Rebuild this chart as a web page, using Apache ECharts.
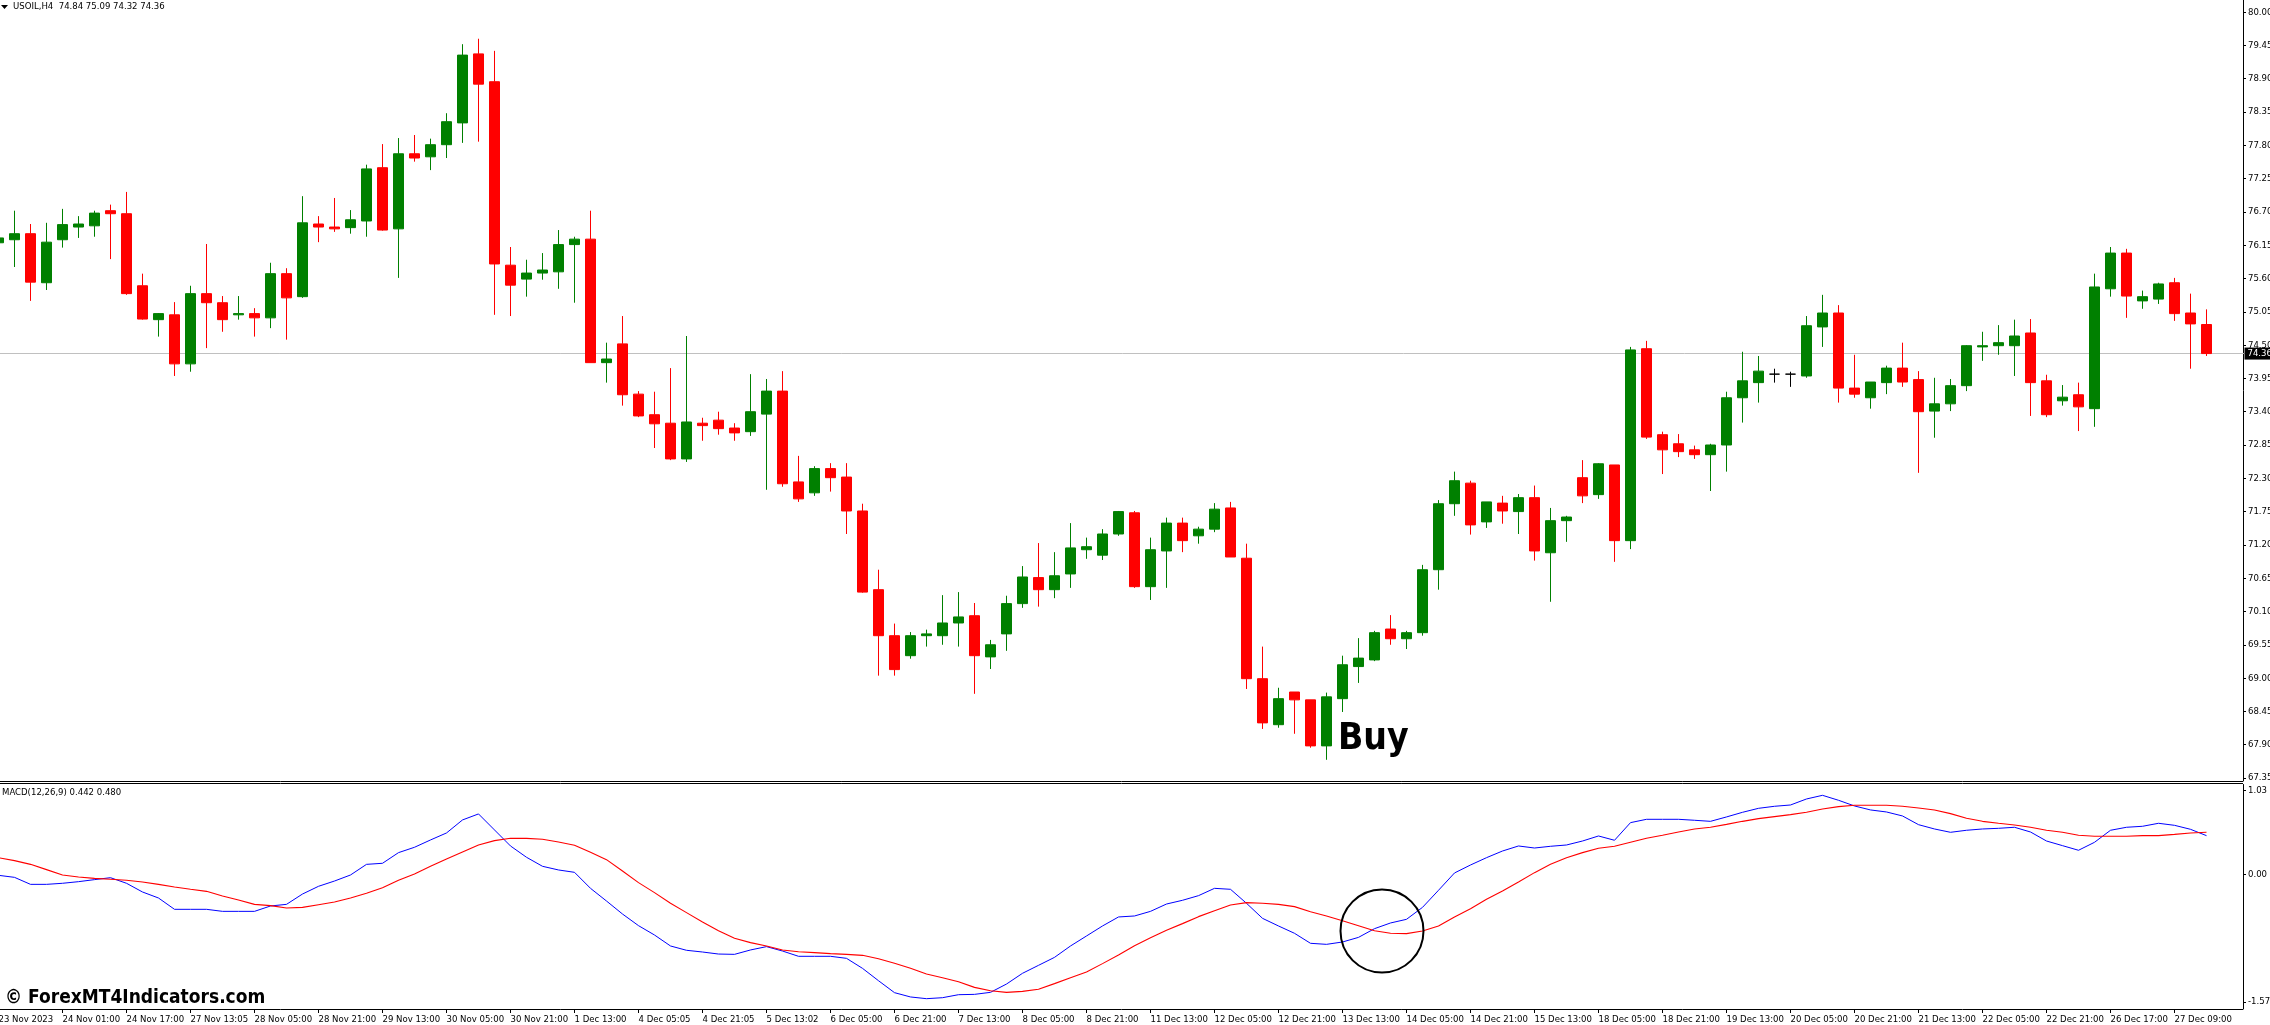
<!DOCTYPE html>
<html>
<head>
<meta charset="utf-8">
<title>USOIL H4 MACD</title>
<script src="https://cdn.jsdelivr.net/npm/echarts@6/dist/echarts.min.js"></script>
<style>
  html, body { margin: 0; padding: 0; background: #fff; overflow: hidden; }
  #chart-container { width: 2270px; height: 1025px; }
</style>
</head>
<body>
<div id="chart-container"></div>
<script>
// one row per H4 bar: open, high, low, close
const candles = [
  [76.19,76.35,76.13,76.27],[76.24,76.72,75.79,76.34],[76.34,76.50,75.23,75.54],[75.53,76.52,75.41,76.20],
  [76.24,76.75,76.11,76.49],[76.45,76.63,76.27,76.50],[76.47,76.72,76.29,76.68],[76.72,76.82,75.92,76.67],
  [76.67,77.03,75.33,75.35],[75.48,75.68,74.92,74.93],[74.92,75.03,74.64,75.02],[75.00,75.21,73.99,74.19],
  [74.19,75.48,74.06,75.35],[75.35,76.17,74.45,75.20],[75.20,75.31,74.72,74.92],[75.00,75.31,74.92,75.02],
  [75.02,75.11,74.64,74.95],[74.95,75.86,74.78,75.68],[75.68,75.77,74.59,75.28],[75.30,76.96,75.28,76.52],
  [76.50,76.63,76.20,76.45],[76.45,76.93,76.37,76.42],[76.44,76.73,76.34,76.57],[76.55,77.48,76.29,77.41],
  [77.43,77.82,76.39,76.40],[76.42,77.92,75.61,77.66],[77.66,77.97,77.53,77.59],[77.61,77.91,77.39,77.81],
  [77.81,78.33,77.59,78.19],[78.17,79.47,77.84,79.29],[79.31,79.56,77.86,78.81],[78.85,79.36,75.00,75.84],
  [75.82,76.12,74.98,75.49],[75.59,75.91,75.30,75.69],[75.69,76.02,75.58,75.74],[75.71,76.40,75.43,76.16],
  [76.16,76.29,75.20,76.25],[76.25,76.72,74.21,74.21],[74.21,74.54,73.88,74.27],[74.52,74.98,73.50,73.68],
  [73.69,73.74,73.31,73.33],[73.35,73.73,72.80,73.20],[73.21,74.12,72.60,72.62],[72.62,74.65,72.57,73.23],
  [73.21,73.30,72.92,73.17],[73.26,73.40,73.02,73.12],[73.13,73.21,72.92,73.05],[73.07,74.02,73.00,73.40],
  [73.36,73.94,72.11,73.74],[73.74,74.07,72.16,72.21],[72.24,72.67,71.91,71.96],[72.06,72.50,72.01,72.46],
  [72.46,72.55,72.08,72.31],[72.32,72.55,71.38,71.76],[71.76,71.88,70.41,70.42],[70.46,70.79,69.04,69.70],
  [69.70,69.90,69.04,69.14],[69.37,69.76,69.32,69.70],[69.70,69.80,69.52,69.73],[69.70,70.37,69.55,69.91],
  [69.91,70.42,69.52,70.01],[70.03,70.24,68.74,69.37],[69.35,69.63,69.15,69.55],[69.73,70.36,69.45,70.23],
  [70.23,70.85,70.16,70.67],[70.66,71.23,70.18,70.46],[70.46,71.08,70.32,70.69],[70.72,71.56,70.49,71.15],
  [71.12,71.32,70.97,71.17],[71.03,71.46,70.95,71.38],[71.38,71.76,71.35,71.75],[71.73,71.76,70.49,70.51],
  [70.51,71.32,70.29,71.12],[71.10,71.65,70.49,71.56],[71.56,71.65,71.08,71.27],[71.35,71.50,71.22,71.46],
  [71.46,71.89,71.41,71.79],[71.81,71.91,71.00,71.00],[70.98,71.22,68.82,68.99],[68.99,69.52,68.16,68.26],
  [68.23,68.84,68.18,68.66],[68.77,68.77,68.08,68.64],[68.64,68.64,67.85,67.88],[67.88,68.76,67.65,68.69],
  [68.66,69.37,68.44,69.22],[69.19,69.66,68.92,69.33],[69.30,69.78,69.28,69.75],[69.81,70.04,69.55,69.65],
  [69.65,69.78,69.48,69.75],[69.75,70.87,69.70,70.79],[70.79,71.94,70.46,71.88],[71.88,72.41,71.68,72.26],
  [72.22,72.26,71.37,71.53],[71.58,71.91,71.48,71.91],[71.89,72.01,71.55,71.76],[71.75,72.04,71.38,71.98],
  [71.98,72.18,70.94,71.10],[71.07,71.81,70.26,71.60],[71.60,71.68,71.25,71.66],[72.31,72.60,71.89,72.01],
  [72.03,72.55,71.96,72.54],[72.52,72.52,70.92,71.27],[71.27,74.47,71.13,74.42],[74.44,74.57,72.95,72.98],
  [73.02,73.07,72.37,72.77],[72.87,73.03,72.65,72.74],[72.77,72.84,72.62,72.69],[72.69,72.87,72.09,72.85],
  [72.85,73.73,72.41,73.63],[73.63,74.39,73.22,73.91],[73.88,74.32,73.55,74.07],[74.02,74.11,73.88,74.02],
  [74.02,74.06,73.81,74.02],[73.99,74.98,73.96,74.82],[74.80,75.33,74.47,75.03],[75.03,75.16,73.55,73.79],
  [73.79,74.34,73.63,73.69],[73.63,73.89,73.45,73.89],[73.88,74.16,73.69,74.12],[74.12,74.54,73.81,73.89],
  [73.93,74.07,72.39,73.40],[73.41,73.96,72.97,73.53],[73.53,73.94,73.41,73.83],[73.83,74.50,73.74,74.49],
  [74.47,74.72,74.24,74.49],[74.49,74.83,74.34,74.54],[74.49,74.92,73.99,74.65],[74.70,74.93,73.33,73.88],
  [73.91,74.01,73.31,73.35],[73.58,73.84,73.50,73.64],[73.68,73.88,73.08,73.48],[73.45,75.68,73.15,75.46],
  [75.43,76.12,75.30,76.02],[76.02,76.09,74.95,75.31],[75.23,75.40,75.10,75.30],[75.26,75.53,75.18,75.51],
  [75.53,75.61,74.90,75.02],[75.03,75.35,74.11,74.85],[74.84,75.09,74.32,74.36],
];

const macdLine = [
  -0.014,-0.039,-0.125,-0.125,-0.112,-0.092,-0.067,-0.043,-0.112,-0.219,-0.293,-0.432,
  -0.432,-0.432,-0.457,-0.457,-0.457,-0.391,-0.371,-0.244,-0.149,-0.084,-0.010,0.121,
  0.134,0.265,0.331,0.421,0.507,0.667,0.741,0.544,0.347,0.208,0.097,0.052,
  0.023,-0.174,-0.330,-0.490,-0.633,-0.748,-0.883,-0.936,-0.957,-0.982,-0.986,-0.932,
  -0.891,-0.945,-1.010,-1.010,-1.010,-1.035,-1.158,-1.310,-1.457,-1.510,-1.531,-1.519,
  -1.482,-1.478,-1.453,-1.351,-1.219,-1.121,-1.023,-0.883,-0.760,-0.637,-0.526,-0.514,
  -0.457,-0.367,-0.321,-0.264,-0.174,-0.186,-0.358,-0.543,-0.637,-0.727,-0.850,-0.863,
  -0.834,-0.777,-0.670,-0.600,-0.555,-0.408,-0.198,0.015,0.113,0.203,0.285,0.347,
  0.322,0.343,0.359,0.408,0.470,0.417,0.634,0.675,0.675,0.675,0.663,0.650,
  0.704,0.761,0.810,0.835,0.851,0.925,0.970,0.909,0.839,0.790,0.765,0.716,
  0.609,0.556,0.515,0.540,0.556,0.564,0.577,0.519,0.408,0.351,0.294,0.392,
  0.540,0.577,0.589,0.626,0.601,0.552,0.474,
];

const signalLine = [
  0.203,0.167,0.121,0.056,-0.010,-0.034,-0.051,-0.063,-0.075,-0.096,-0.125,-0.157,
  -0.186,-0.211,-0.268,-0.317,-0.371,-0.387,-0.416,-0.408,-0.375,-0.342,-0.293,-0.235,
  -0.166,-0.075,0.003,0.097,0.187,0.273,0.359,0.413,0.441,0.441,0.429,0.396,
  0.355,0.269,0.179,0.039,-0.104,-0.227,-0.358,-0.473,-0.588,-0.695,-0.789,-0.842,
  -0.883,-0.932,-0.953,-0.965,-0.977,-0.986,-0.998,-1.039,-1.096,-1.158,-1.228,-1.273,
  -1.322,-1.392,-1.433,-1.453,-1.441,-1.416,-1.346,-1.273,-1.203,-1.100,-0.994,-0.879,
  -0.781,-0.690,-0.608,-0.522,-0.449,-0.379,-0.350,-0.358,-0.371,-0.399,-0.461,-0.514,
  -0.572,-0.633,-0.695,-0.727,-0.731,-0.699,-0.637,-0.526,-0.424,-0.309,-0.207,-0.096,
  0.019,0.121,0.203,0.265,0.318,0.343,0.392,0.441,0.478,0.519,0.556,0.577,
  0.613,0.650,0.683,0.708,0.732,0.761,0.802,0.831,0.847,0.847,0.847,0.835,
  0.814,0.790,0.745,0.687,0.650,0.626,0.605,0.577,0.540,0.515,0.478,0.466,
  0.466,0.466,0.474,0.474,0.490,0.507,0.515,
];

// every 4th bar gets a date on the time axis
const timeLabels = [
  "23 Nov 2023","24 Nov 01:00","24 Nov 17:00","27 Nov 13:05","28 Nov 05:00","28 Nov 21:00","29 Nov 13:00",
  "30 Nov 05:00","30 Nov 21:00","1 Dec 13:00","4 Dec 05:05","4 Dec 21:05","5 Dec 13:02","6 Dec 05:00",
  "6 Dec 21:00","7 Dec 13:00","8 Dec 05:00","8 Dec 21:00","11 Dec 13:00","12 Dec 05:00","12 Dec 21:00",
  "13 Dec 13:00","14 Dec 05:00","14 Dec 21:00","15 Dec 13:00","18 Dec 05:00","18 Dec 21:00","19 Dec 13:00",
  "20 Dec 05:00","20 Dec 21:00","21 Dec 13:00","22 Dec 05:00","22 Dec 21:00","26 Dec 17:00","27 Dec 09:00",
];
const priceTicks = [
  67.35,67.90,68.45,69.00,69.55,70.10,70.65,71.20,71.75,72.30,72.85,73.40,
  73.95,74.50,75.05,75.60,76.15,76.70,77.25,77.80,78.35,78.90,79.45,80.00,
];
const macdTicks = [-1.572, 0, 1.03];
const lastPrice = 74.36;

const barCount = candles.length;
const labelStep = 4;
const emptyBars = 2; // chart shift space on the right
const categories = [];
for (let i = 0; i < barCount + emptyBars; i++) {
  categories.push(i % labelStep === 0 && i < barCount ? timeLabels[i / labelStep] : "");
}
const isLabelled = (i) => i % labelStep === 0 && i < barCount;

const uiFont = "'DejaVu Sans Condensed', 'DejaVu Sans', sans-serif";
const axisRight = 2243;

const chartContainer = document.getElementById("chart-container");
const myChart = echarts.init(chartContainer);

const option = {
  animation: false,
  backgroundColor: "#fff",
  grid: [
    { left: -9.5, width: 2256, top: 0, height: 781, outerBoundsMode: "none" },
    { left: -9.5, width: 2256, top: 784.5, height: 224.5, outerBoundsMode: "none" },
  ],
  xAxis: [
    {
      type: "category", gridIndex: 0, data: categories, boundaryGap: true,
      axisLine: { show: false, onZero: false }, axisTick: { show: false }, axisLabel: { show: false }, splitLine: { show: false },
    },
    {
      type: "category", gridIndex: 1, data: categories, boundaryGap: true,
      axisLine: { show: false, onZero: false },
      axisTick: { show: true, alignWithLabel: true, length: 4, lineStyle: { color: "#000" }, interval: isLabelled },
      axisLabel: {
        show: true, align: "left", color: "#000", fontFamily: uiFont, fontSize: 9.5, margin: 6,
        interval: isLabelled, hideOverlap: false, showMinLabel: true,
      },
      splitLine: { show: false },
    },
  ],
  yAxis: [
    {
      type: "value", gridIndex: 0, position: "right", offset: -3.5, min: 67.3, max: 80.2,
      axisLine: { show: true, lineStyle: { color: "#000" } },
      axisTick: { show: true, length: 3, customValues: priceTicks, lineStyle: { color: "#000" } },
      axisLabel: {
        show: true, customValues: priceTicks, color: "#000", fontFamily: uiFont, fontSize: 9.5, margin: 5,
        formatter: (v) => v.toFixed(2),
      },
      splitLine: { show: false },
    },
    {
      type: "value", gridIndex: 1, position: "right", offset: -3.5, min: -1.658, max: 1.103,
      axisLine: { show: true, lineStyle: { color: "#000" } },
      axisTick: { show: true, length: 3, customValues: macdTicks, lineStyle: { color: "#000" } },
      axisLabel: {
        show: true, customValues: macdTicks, color: "#000", fontFamily: uiFont, fontSize: 9.5, margin: 5,
        formatter: (v) => (v < -1 ? v.toFixed(3) : v.toFixed(2)),
      },
      splitLine: { show: false },
    },
  ],
  series: [
    {
      name: "USOIL,H4",
      type: "candlestick",
      xAxisIndex: 0,
      yAxisIndex: 0,
      z: 2,
      barWidth: 10,
      // echarts wants open, close, low, high
      data: candles.map((c) => [c[0], c[3], c[2], c[1]]),
      itemStyle: {
        color: "#008000", color0: "#ff0000",
        borderColor: "#008000", borderColor0: "#ff0000", borderColorDoji: "#000000",
        borderWidth: 1,
      },
      markLine: {
        silent: true, z: 1, symbol: "none", animation: false,
        lineStyle: { color: "#c0c0c0", width: 1, type: "solid" },
        label: {
          show: true, position: "end", distance: -2,
          formatter: () => lastPrice.toFixed(2),
          color: "#fff", backgroundColor: "#000", fontFamily: uiFont, fontSize: 9.5,
          padding: [1, 4, 1, 3],
        },
        data: [{ yAxis: lastPrice }],
      },
    },
    {
      name: "MACD", type: "line", xAxisIndex: 1, yAxisIndex: 1, data: macdLine,
      symbol: "none", lineStyle: { color: "#0000ff", width: 1 }, z: 3,
    },
    {
      name: "Signal", type: "line", xAxisIndex: 1, yAxisIndex: 1, data: signalLine,
      symbol: "none", lineStyle: { color: "#ff0000", width: 1.1 }, z: 4,
    },
  ],
  graphic: [
    // pane separator and bottom frame
    { type: "line", shape: { x1: 0, y1: 781.5, x2: axisRight, y2: 781.5 }, style: { stroke: "#000", lineWidth: 1 } },
    { type: "line", shape: { x1: 0, y1: 783.5, x2: axisRight, y2: 783.5 }, style: { stroke: "#000", lineWidth: 1 } },
    { type: "line", shape: { x1: 0, y1: 1009.5, x2: axisRight, y2: 1009.5 }, style: { stroke: "#000", lineWidth: 1 } },
    // chart header
    { type: "polygon", shape: { points: [[1, 5], [8, 5], [4.5, 9]] }, style: { fill: "#000" } },
    { type: "text", x: 13, y: 2, style: { text: "USOIL,H4  74.84 75.09 74.32 74.36", font: "9.5px " + uiFont, fill: "#000" } },
    { type: "text", x: 2, y: 788, style: { text: "MACD(12,26,9) 0.442 0.480", font: "9.5px " + uiFont, fill: "#000" } },
    // annotations added on the screenshot
    { type: "text", x: 1338, y: 721, z: 10, style: { text: "Buy", font: "bold 37px " + uiFont, fill: "#000" } },
    {
      type: "ellipse", z: 10, shape: { cx: 1382, cy: 931, rx: 41.5, ry: 41.5 },
      style: { fill: "none", stroke: "#000", lineWidth: 2 },
    },
    { type: "text", x: 5, y: 989, z: 10, style: { text: "© ForexMT4Indicators.com", font: "bold 19px " + uiFont, fill: "#000" } },
  ],
};
myChart.setOption(option);
</script>
</body>
</html>
